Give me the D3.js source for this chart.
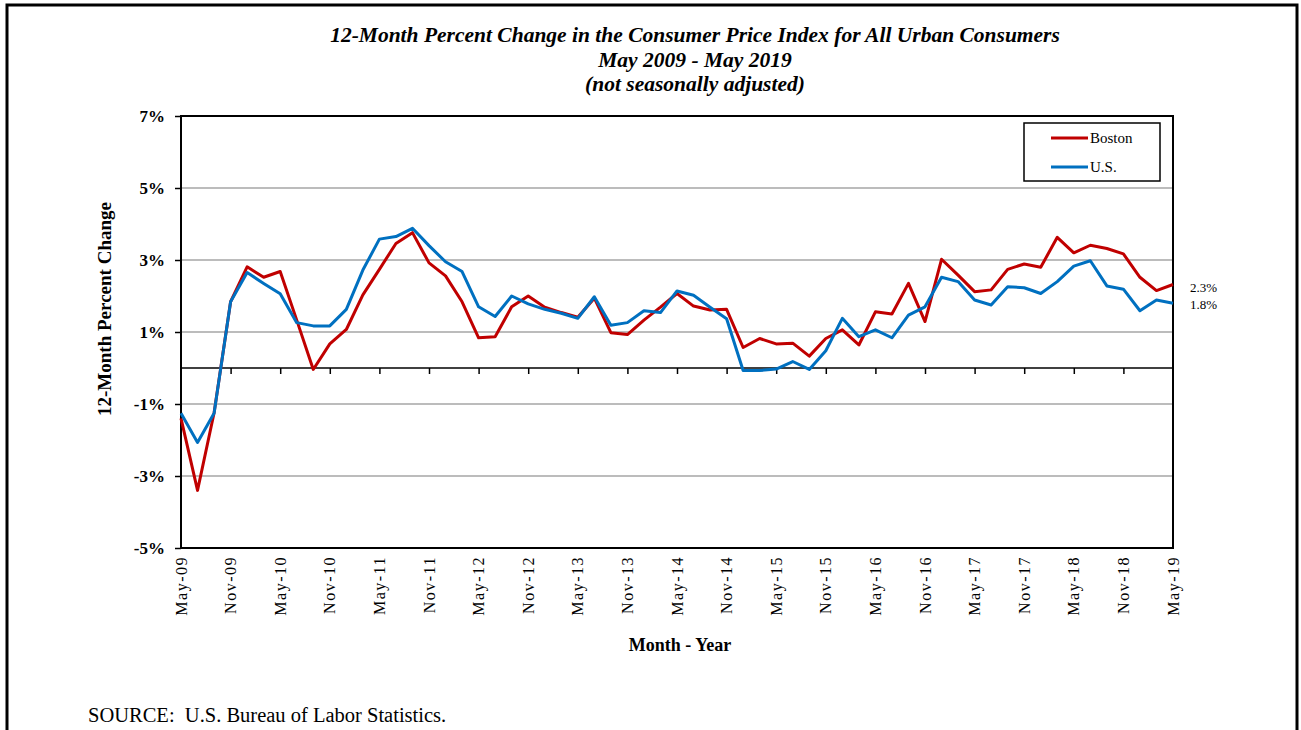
<!DOCTYPE html>
<html>
<head>
<meta charset="utf-8">
<script src="https://cdn.jsdelivr.net/npm/d3@7"></script>
<style>
  body { margin: 0; background: #fff; }
  svg text { font-family: "Liberation Serif", "Times New Roman", serif; fill: #000; }
</style>
</head>
<body>
<div id="chart"></div>
<script>
// 12-month % change, bimonthly, May-09 .. May-19
var boston = [-1.4, -3.4, -1.25, 1.84, 2.81, 2.52, 2.68, 1.33, -0.04, 0.67, 1.07, 2.03, 2.74, 3.46, 3.76,
    2.92, 2.56, 1.84, 0.84, 0.87, 1.70, 2.00, 1.69, 1.54, 1.41, 1.94, 0.98, 0.93, 1.33, 1.69, 2.07,
    1.72, 1.61, 1.63, 0.57, 0.82, 0.67, 0.69, 0.33, 0.82, 1.06, 0.64, 1.56, 1.50, 2.35, 1.29, 3.02,
    2.58, 2.12, 2.17, 2.74, 2.89, 2.80, 3.63, 3.20, 3.41, 3.32, 3.17, 2.52, 2.15, 2.32];
var us = [-1.26, -2.07, -1.26, 1.84, 2.65, 2.35, 2.06, 1.26, 1.17, 1.17, 1.63, 2.72, 3.58, 3.65, 3.88,
    3.40, 2.95, 2.68, 1.70, 1.43, 2.00, 1.78, 1.63, 1.52, 1.38, 1.98, 1.19, 1.26, 1.59, 1.54, 2.14,
    2.02, 1.69, 1.37, -0.07, -0.07, -0.03, 0.18, -0.04, 0.48, 1.38, 0.87, 1.06, 0.84, 1.47, 1.70, 2.52,
    2.40, 1.89, 1.75, 2.26, 2.23, 2.07, 2.40, 2.83, 2.98, 2.28, 2.19, 1.59, 1.89, 1.80];
var xLabels = ["May-09","Nov-09","May-10","Nov-10","May-11","Nov-11","May-12","Nov-12","May-13","Nov-13",
    "May-14","Nov-14","May-15","Nov-15","May-16","Nov-16","May-17","Nov-17","May-18","Nov-18","May-19"];
var yTicks = [7, 5, 3, 1, -1, -3, -5];
var seriesNames = ["Boston", "U.S."];
var seriesColors = ["#C00000", "#0070C0"];
var endLabels = ["2.3%", "1.8%"];

var width = 1301, height = 730;
var svg = d3.select("#chart").append("svg")
    .attr("width", width)
    .attr("height", height);

// outer frame
svg.append("rect")
    .attr("x", 7).attr("y", 5)
    .attr("width", 1290).attr("height", 760)
    .attr("fill", "none").attr("stroke", "#000").attr("stroke-width", 3);

var x = d3.scaleLinear().domain([0, 120]).range([181, 1173]);
var y = d3.scaleLinear().domain([-5, 7]).range([548, 116]);

// gridlines
svg.append("g").selectAll("line")
    .data(yTicks.filter(function(d){ return d != 7 && d != -5; }))
    .enter().append("line")
    .attr("x1", x(0)).attr("x2", x(120))
    .attr("y1", function(d){ return y(d); })
    .attr("y2", function(d){ return y(d); })
    .attr("stroke", "#a6a6a6").attr("stroke-width", 1.5);

// plot border
svg.append("rect")
    .attr("x", x(0)).attr("y", y(7))
    .attr("width", x(120) - x(0)).attr("height", y(-5) - y(7))
    .attr("fill", "none").attr("stroke", "#000").attr("stroke-width", 2);

// y axis ticks + labels
var yAxis = d3.axisLeft(y).tickValues(yTicks)
    .tickFormat(function(d){ return d + "%"; })
    .tickSize(6).tickPadding(10);
var gy = svg.append("g").attr("transform", "translate(" + x(0) + ",0)").call(yAxis);
gy.select(".domain").remove();
gy.selectAll("line").attr("stroke", "#000").attr("stroke-width", 1.5);
gy.selectAll("text")
    .style("font-family", "'Liberation Serif', serif")
    .style("font-size", "17px").style("font-weight", "bold");

// zero line with ticks every 6 months
var xAxis = d3.axisBottom(x).tickValues(d3.range(6, 120, 6)).tickSize(6).tickFormat("");
var gx0 = svg.append("g").attr("transform", "translate(0," + y(0) + ")").call(xAxis);
gx0.select(".domain").remove();
gx0.selectAll("line").attr("stroke", "#000").attr("stroke-width", 1.5);
svg.append("line")
    .attr("x1", x(0)).attr("x2", x(120))
    .attr("y1", y(0)).attr("y2", y(0))
    .attr("stroke", "#000").attr("stroke-width", 1.5);

// x labels (rotated)
svg.append("g").selectAll("text")
    .data(xLabels)
    .enter().append("text")
    .attr("transform", function(d, i){ return "translate(" + (x(i * 6) + 5.5) + "," + 556 + ") rotate(-90)"; })
    .attr("text-anchor", "end")
    .style("font-size", "16px")
    .style("letter-spacing", "1.5px")
    .text(function(d){ return d; });

// lines
var line = d3.line()
    .x(function(d, i){ return x(i * 2); })
    .y(function(d){ return y(d); });

[boston, us].forEach(function(s, k){
    svg.append("path")
        .datum(s)
        .attr("d", line)
        .attr("fill", "none")
        .attr("stroke", seriesColors[k])
        .attr("stroke-width", 3)
        .attr("stroke-linejoin", "round");
});

// end labels
svg.append("text").attr("x", 1190).attr("y", 292).style("font-size", "13px").text(endLabels[0]);
svg.append("text").attr("x", 1190).attr("y", 309).style("font-size", "13px").text(endLabels[1]);

// legend
svg.append("rect")
    .attr("x", 1024).attr("y", 123).attr("width", 136).attr("height", 58)
    .attr("fill", "#fff").attr("stroke", "#000").attr("stroke-width", 1.5);
seriesNames.forEach(function(n, k){
    var ly = 138 + k * 29;
    svg.append("line")
        .attr("x1", 1051).attr("x2", 1088)
        .attr("y1", ly).attr("y2", ly)
        .attr("stroke", seriesColors[k]).attr("stroke-width", 3);
    svg.append("text").attr("x", 1090).attr("y", ly + 5)
        .style("font-size", "15px").text(n);
});

// titles
var titles = ["12-Month Percent Change in the Consumer Price Index for All Urban Consumers",
    "May 2009 - May 2019", "(not seasonally adjusted)"];
titles.forEach(function(t, i){
    svg.append("text")
        .attr("x", 695).attr("y", 42 + i * 24.5)
        .attr("text-anchor", "middle")
        .style("font-size", "21.5px").style("font-weight", "bold").style("font-style", "italic")
        .text(t);
});

svg.append("text")
    .attr("transform", "translate(111,309) rotate(-90)")
    .attr("text-anchor", "middle")
    .style("font-size", "19px").style("font-weight", "bold")
    .text("12-Month Percent Change");

svg.append("text")
    .attr("x", 680).attr("y", 651)
    .attr("text-anchor", "middle")
    .style("font-size", "18px").style("font-weight", "bold")
    .text("Month - Year");

svg.append("text")
    .attr("x", 88).attr("y", 722)
    .style("font-size", "20.5px")
    .style("white-space", "pre")
    .text("SOURCE:  U.S. Bureau of Labor Statistics.");
</script>
</body>
</html>
